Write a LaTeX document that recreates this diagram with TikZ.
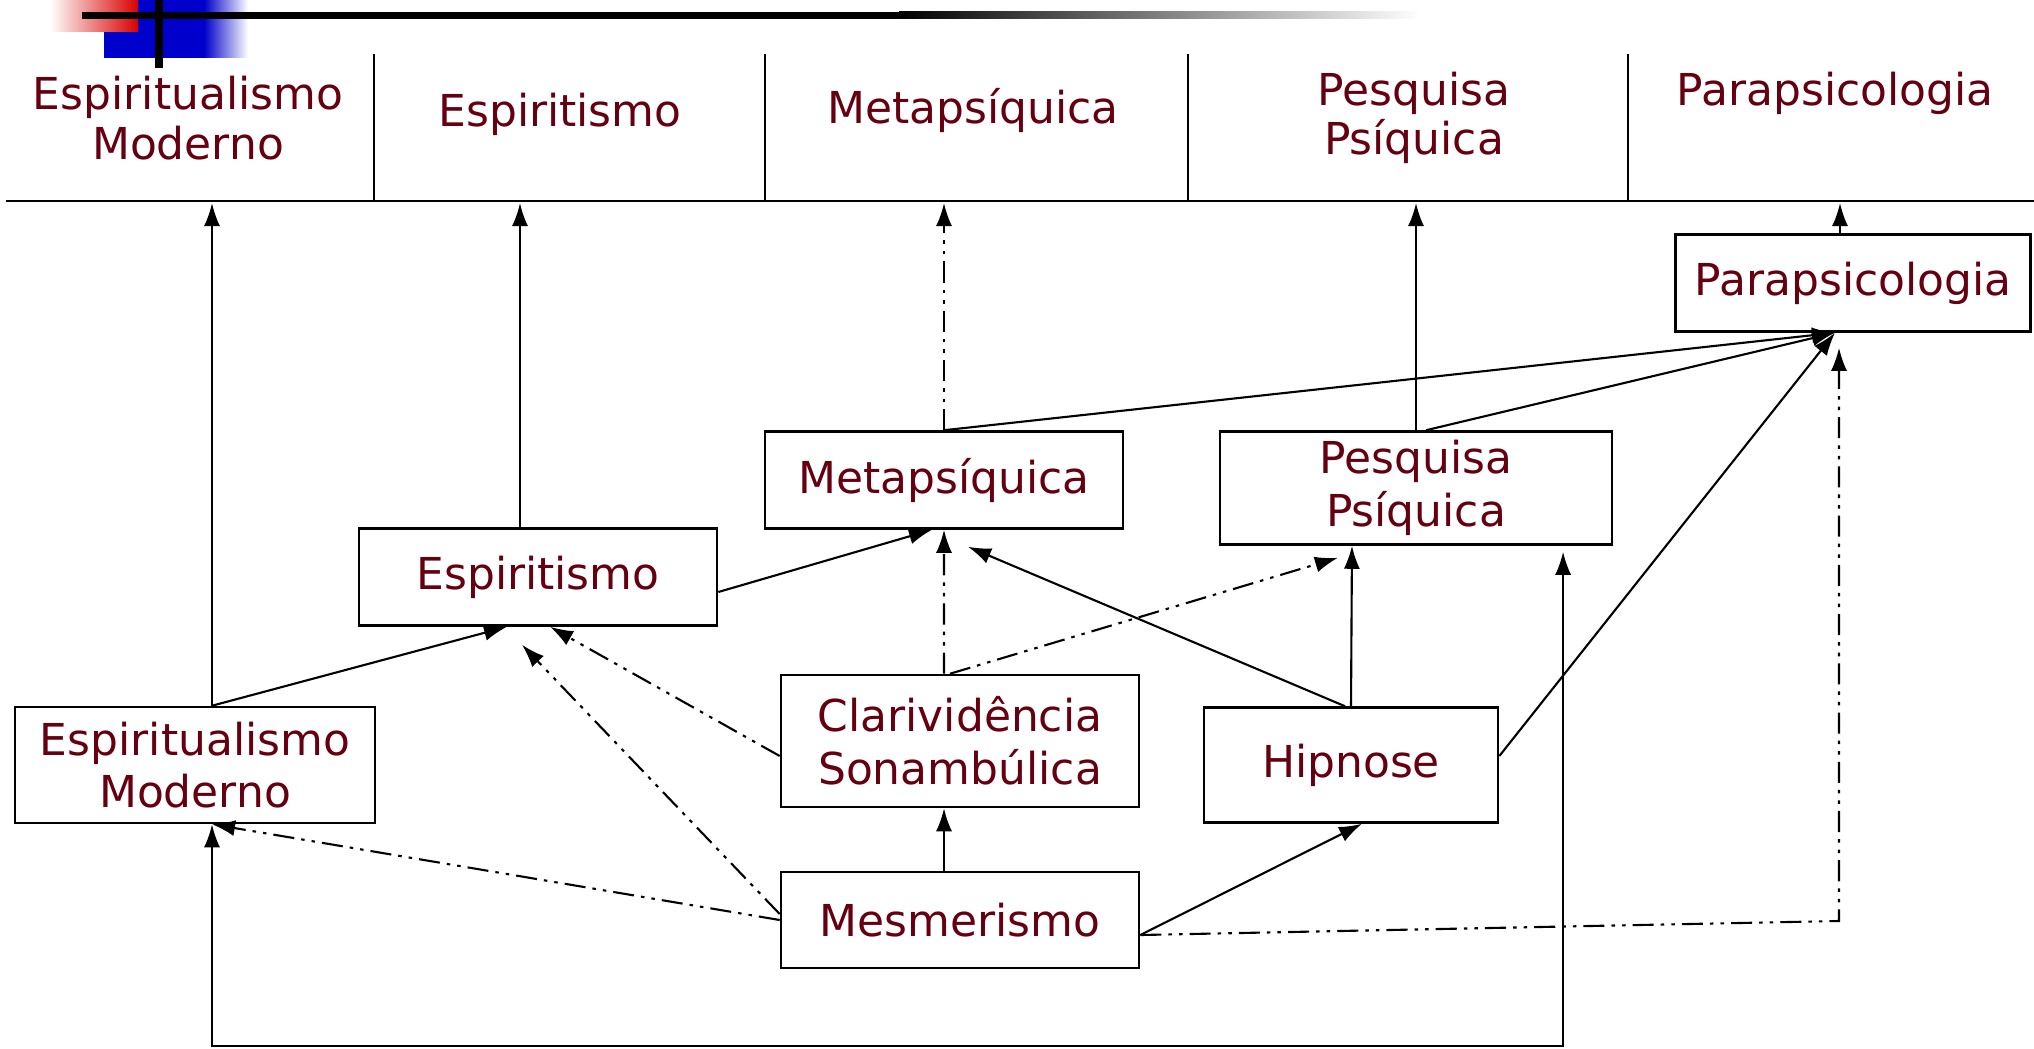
\documentclass[tikz,border=0pt]{standalone}
\usepackage{fontspec}
\setmainfont{DejaVu Sans}
\usepackage{tikz}
\usetikzlibrary{arrows.meta}
\definecolor{vinho}{RGB}{102,0,17}

\begin{document}
\begin{tikzpicture}[x=0.01cm,y=-0.01cm,>={Latex[length=2.3mm,width=1.6mm]},line width=0.6pt,
caixa/.style={draw,line width=0.7pt,fill=white,text=vinho,align=center,inner sep=2pt,
  font=\fontsize{12.5}{15}\selectfont},
cab/.style={text=vinho,align=center,inner sep=0pt,
  font=\fontsize{12.5}{14}\selectfont},
tr/.style={dash pattern=on 6pt off 2pt on 1pt off 2pt on 1pt off 2pt}]
\useasboundingbox (0,0) rectangle (2034,1049);

% template corner
\fill[blue!80!black] (104,0) rectangle (205,58);
\shade[left color=blue!80!black,right color=white] (204,0) rectangle (248,58);
\shade[left color=white,right color=red!85!black] (50,0) rectangle (138,32);
\fill[black] (82,12) rectangle (900,19);
\shade[left color=black,right color=white] (899,12) rectangle (1420,19);
\fill[black] (155,0) rectangle (163,68);

% header
\draw (6,201) -- (2034,201);
\foreach \x in {374,765,1188,1628} \draw (\x,54) -- (\x,201);
\coordinate (topo) at (0,203);
\coordinate (fundo) at (0,1046);
\node[cab] (t1) at (188,118) {Espiritualismo\\Moderno};
\node[cab] (t2) at (560,114) {Espiritismo};
\node[cab] (t3) at (973,110) {Metapsíquica};
\node[cab] (t4) at (1414,118) {Pesquisa\\Psíquica};
\node[cab] (t5) at (1835,93) {Parapsicologia};

\node[caixa,minimum width=3.55cm,minimum height=0.97cm] (para) at (1853,283) {Parapsicologia};
\node[caixa,minimum width=3.58cm,minimum height=0.97cm] (meta) at (944,480) {Metapsíquica};
\node[caixa,minimum width=3.92cm,minimum height=1.13cm] (pesq) at (1416,488) {Pesquisa\\Psíquica};
\node[caixa,minimum width=3.58cm,minimum height=0.97cm] (espt) at (538,577) {Espiritismo};
\node[caixa,minimum width=3.60cm,minimum height=1.16cm] (espm) at (195,765) {Espiritualismo\\Moderno};
\node[caixa,minimum width=3.58cm,minimum height=1.32cm] (clar) at (960,741) {Clarividência\\Sonambúlica};
\node[caixa,minimum width=2.94cm,minimum height=1.15cm] (hipn) at (1351,765) {Hipnose};
\node[caixa,minimum width=3.58cm,minimum height=0.96cm] (mesm) at (960,920) {Mesmerismo};
\coordinate (canto) at (1839,921);

\path[->]
([xshift=.17cm]espm.north) edge ([xshift=.17cm]espm.north |- topo)
([xshift=-.18cm]espt.north) edge ([xshift=-.18cm]espt.north |- topo)
(meta.north) edge[tr] (meta.north |- topo)
(pesq.north) edge (pesq.north |- topo)
([xshift=-.13cm]para.north) edge ([xshift=-.13cm]para.north |- topo)
([xshift=.17cm]espm.north) edge ([xshift=-.31cm]espt.south)
([yshift=-.15cm]espt.east) edge ([xshift=-.12cm]meta.south)
(meta.north) edge ([xshift=-.18cm]para.south)
([xshift=.1cm]pesq.north) edge ([xshift=-.18cm]para.south)
([yshift=.09cm]hipn.east) edge ([xshift=-.18cm]para.south)
(hipn.north) edge ([xshift=-.64cm]pesq.south)
([xshift=-.06cm]hipn.north) edge ([xshift=.24cm,yshift=-.17cm]meta.south)
([xshift=-.16cm]mesm.north) edge ([xshift=-.16cm]clar.south)
([yshift=-.15cm]mesm.east) edge ([xshift=.11cm]hipn.south)
([xshift=-.16cm]clar.north) edge[tr] (meta.south)
([xshift=-.1cm]clar.north) edge[tr] ([xshift=-.78cm,yshift=-.12cm]pesq.south)
([yshift=-.15cm]clar.west) edge[tr] ([xshift=.12cm]espt.south)
(mesm.west) edge[tr] ([xshift=.17cm]espm.south)
([yshift=.06cm]mesm.west) edge[tr] ([xshift=-.16cm,yshift=-.18cm]espt.south);
\draw[tr,->] ([yshift=-.15cm]mesm.east) -- (canto) -- ([xshift=-.14cm,yshift=-.15cm]para.south);
\draw[<->] ([xshift=.17cm]espm.south) -- ([xshift=.17cm]espm.south |- fundo)
  -| ([xshift=1.47cm,yshift=-.06cm]pesq.south);
\end{tikzpicture}
\end{document}
